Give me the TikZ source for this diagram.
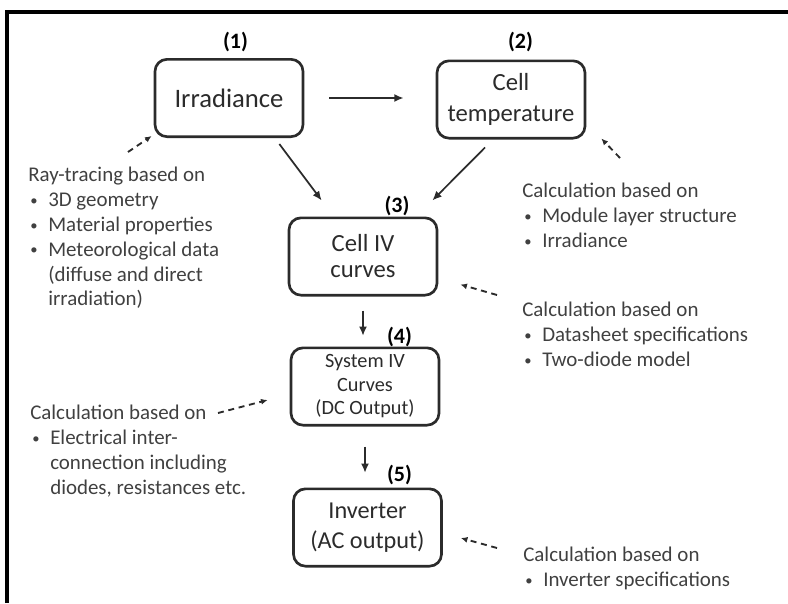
\documentclass[tikz,border=0pt]{standalone}
\usepackage{fontspec}
\setmainfont{Carlito}
\usepackage{graphicx}
\usepackage{tikz}
\usetikzlibrary{arrows.meta, positioning, calc}
\definecolor{ink}{HTML}{2B2B2B}
\definecolor{notegray}{HTML}{404040}
\newcommand{\itm}{\makebox[15pt][l]{\hspace{1.5pt}\raisebox{1pt}{\scalebox{0.7}{\textbullet}}}}
\newcommand{\cnt}{\hspace*{15pt}}

\begin{document}
\begin{tikzpicture}[
  x=0.75pt, y=-0.75pt,
  stage/.style={rectangle, rounded corners=9pt, draw=ink, line width=2pt,
                minimum width=111pt, minimum height=58pt, align=center,
                text=ink, inner sep=2pt},
  num/.style={font=\fontsize{16.5}{18}\selectfont\bfseries, inner sep=0pt},
  note/.style={anchor=north west, align=left, inner sep=0pt, text=notegray,
               font=\fontsize{15.7}{18.6}\selectfont},
  arr/.style={-{Latex[length=7pt, width=6pt]}, line width=1.3pt, draw=ink},
  darr/.style={-{Latex[length=5pt, width=4.5pt]}, line width=1.4pt, draw=ink,
               dash pattern=on 4.5pt off 3.5pt},
]
\useasboundingbox (0,0) rectangle (788,603);
\draw[line width=3pt] (7,603) -- (7,12) -- (788,12);

\node[stage, font=\fontsize{20}{24}\selectfont] (irr) at (229,98) {Irradiance};
\node[stage, font=\fontsize{18.5}{23}\selectfont] (tmp) at (511,99.5) {Cell\\temperature};
\node[stage, font=\fontsize{18.5}{19.5}\selectfont] (civ) at (363,256.5) {Cell IV\\curves};
\node[stage, font=\fontsize{15.2}{17.6}\selectfont] (sys) at (365,386.5) {System IV\\Curves\\(DC Output)};
\node[stage, font=\fontsize{18.2}{23}\selectfont] (inv) at (367.5,527.5) {Inverter\\(AC output)};

\node[num] (n1) at (235.5,42.5) {(1)};
\node[num] (n2) at (520.5,42.5) {(2)};
\node[num] (n3) at (397,206) {(3)};
\node[num] (n4) at (399.5,336.5) {(4)};
\node[num] (n5) at (399.5,475) {(5)};

\node[note] (rtxt) at (28,167) {Ray-tracing based on\\ \itm 3D geometry\\ \itm Material properties\\ \itm Meteorological data\\ \cnt(diffuse and direct\\ \cnt irradiation)};
\node[note] (ttxt) at (522,183) {Calculation based on\\ \itm Module layer structure\\ \itm Irradiance};
\node[note] (ctxt) at (522,302) {Calculation based on\\ \itm Datasheet specifications\\ \itm Two-diode model};
\node[note] (stxt) at (30,405) {Calculation based on\\ \itm Electrical inter-\\ \cnt connection including\\ \cnt diodes, resistances etc.};
\node[note] (itxt) at (523,547) {Calculation based on\\ \itm Inverter specifications};

\coordinate (rtail) at (128,152);
\coordinate (ttail) at (620,158);
\coordinate (ctail) at (497,295);
\coordinate (stail) at (218,413);
\coordinate (itail) at (497,548);

\draw[arr, shorten <=18.75pt, shorten >=24pt] (irr.east) -- (irr.east -| tmp.west);
\draw[arr] ($(irr.south east)+(-25,6)$) -- ($(civ.north west)+(34,-16)$);
\draw[arr] ($(tmp.south)+(-26,8)$) -- ($(civ.north east)+(-6,-16)$);
\draw[arr, shorten <=10.5pt, shorten >=8pt] (civ.south) -- (civ.south |- sys.north);
\draw[arr, shorten <=15pt, shorten >=11pt] (sys.south) -- (sys.south |- inv.north);

\draw[darr] (rtail) -- ($(irr.south west)+(-2,-2)$);
\draw[darr] (ttail) -- ($(tmp.south east)+(15,-1)$);
\draw[darr] (ctail) -- ($(civ.south east)+(22,-12)$);
\draw[darr] (stail) -- ($(sys.west)+(-22,13.5)$);
\draw[darr] (itail) -- ($(inv.east)+(18,10.5)$);
\end{tikzpicture}
\end{document}
